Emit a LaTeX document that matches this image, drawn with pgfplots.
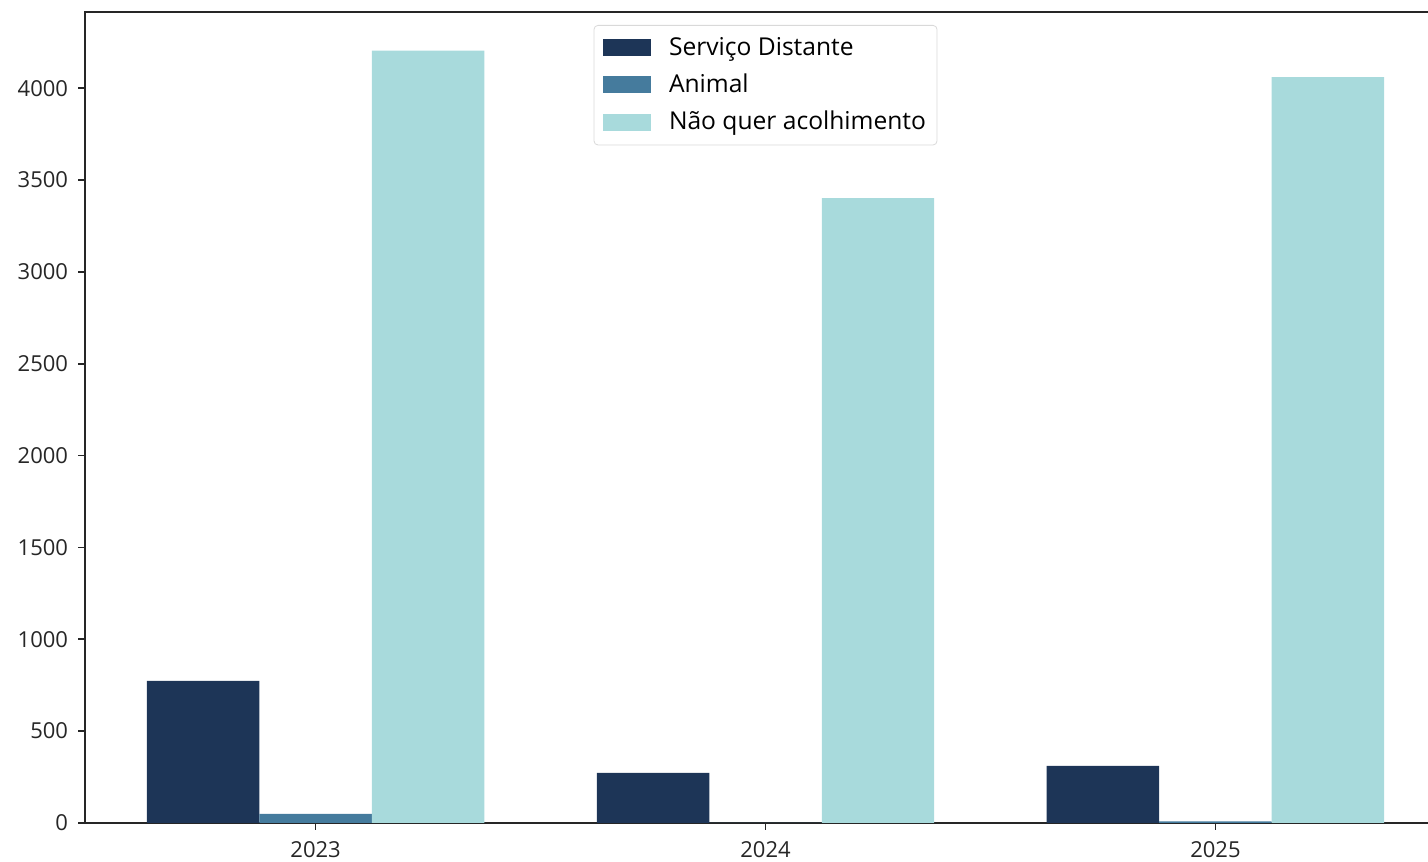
\documentclass[border=0pt]{standalone}
\usepackage{pgfplots}
\pgfplotsset{compat=1.18}
\usepackage{fontspec}
\setmainfont{Open Sans}
\definecolor{c1}{HTML}{1D3557}
\definecolor{c2}{HTML}{457B9D}
\definecolor{c3}{HTML}{A8DADC}
\begin{document}
\begin{tikzpicture}
\begin{axis}[
  scale only axis,
  width=680.5pt, height=405.5pt,
  xmin=-0.5125, xmax=2.5125,
  ymin=0, ymax=4415,
  xtick={0,1,2}, xticklabels={2023,2024,2025},
  ytick={0,500,1000,1500,2000,2500,3000,3500,4000},
  tick align=outside, tick pos=left,
  major tick length=3.5pt,
  axis line style={line width=0.8pt, black!85},
  every tick/.style={line width=0.8pt, black!85},
  tick label style={font=\fontsize{11pt}{13pt}\selectfont, text=black!85},
  xticklabel style={yshift=-2.5pt},
  yticklabel style={xshift=-1.5pt},
  /pgf/number format/assume math mode=true,
  /pgf/number format/1000 sep={},
  ybar, bar width=0.25,
  legend style={at={(0.5,0.984)}, anchor=north, draw=black!15, rounded corners=2pt,
    font=\fontsize{12.3pt}{14pt}\selectfont, row sep=3.8pt, inner xsep=4.5pt, inner ysep=4pt,
    nodes={inner xsep=1pt},
    /tikz/every odd column/.append style={column sep=8pt}},
  legend cell align=left,
  legend image code/.code={\fill[#1, sharp corners] (0pt,-4.25pt) rectangle (24pt,4.25pt);},
]
\addplot[fill=c1, draw=none, bar shift=-0.25] coordinates {(0,773) (1,272) (2,310)};
\addplot[fill=c2, draw=none, bar shift=0] coordinates {(0,50) (1,0) (2,8)};
\addplot[fill=c3, draw=none, bar shift=0.25] coordinates {(0,4205) (1,3401) (2,4060)};
\legend{Serviço Distante, Animal, Não quer acolhimento}
\coordinate (tl) at (rel axis cs:-0.0625,1.0148);
\coordinate (br) at (rel axis cs:0.9868,-0.0481);
\end{axis}
\pgfresetboundingbox
\path[use as bounding box] (tl) rectangle (br);
\end{tikzpicture}
\end{document}
